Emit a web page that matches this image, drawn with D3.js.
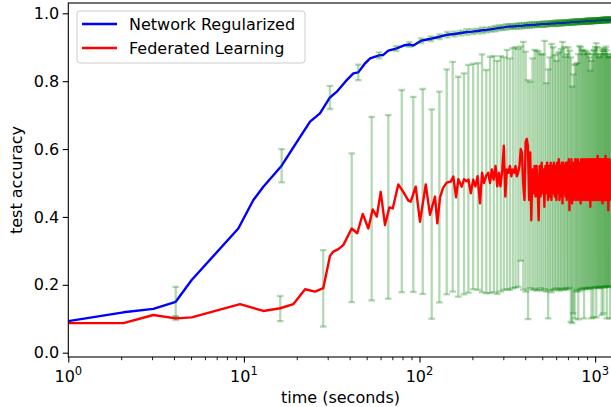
<!DOCTYPE html>
<html lang="en">
<head>
    <meta charset="UTF-8">
    <title>test accuracy vs time</title>
    <script src="https://d3js.org/d3.v7.min.js"></script>
    <style>
        body { margin: 0; background: #fff; }
        svg text { font-family: "DejaVu Sans", sans-serif; fill: #000; }
    </style>
</head>
<body>
    <svg width="611" height="407"></svg>

    <script>
        // ---- data ----
        // Network Regularized: time (s), accuracy, std (null = no error bar)
        var blueTime = [1, 2.06, 3.05, 4.09, 5.04, 9.29, 11.3, 12.9, 16.4, 20.9,
            23.8, 27.1, 30.9, 33.8, 38, 42, 44.8, 48.5, 52.3, 58.9,
            62, 66.4, 73.5, 81, 87.6, 92.2,
            102, 116, 130, 144, 158, 172, 186, 200, 214, 228,
            242, 256, 270, 284, 298, 312, 326, 340, 354, 368,
            382, 396, 410, 424, 438, 452, 466, 480, 494, 508,
            522, 536, 550, 564, 578, 592, 606, 620, 634, 648,
            662, 676, 690, 704, 718, 732, 746, 760, 774, 788,
            802, 816, 830, 844, 858, 872, 886, 900, 914, 928,
            942, 956, 970, 984, 998, 1012, 1026, 1040, 1054, 1068,
            1082, 1096, 1110, 1124, 1138, 1152, 1166, 1180, 1194, 1208,
            1222, 1236];
        var blueAcc = [0.093, 0.119, 0.129, 0.150, 0.214, 0.366, 0.449, 0.489, 0.551, 0.636,
            0.681, 0.705, 0.752, 0.769, 0.800, 0.823, 0.826, 0.850, 0.867, 0.876,
            0.877, 0.890, 0.896, 0.905, 0.908, 0.905,
            0.919, 0.925, 0.931, 0.937, 0.939, 0.942, 0.945, 0.946, 0.948, 0.950,
            0.951, 0.953, 0.955, 0.957, 0.958, 0.960, 0.961, 0.961, 0.962, 0.963,
            0.963, 0.964, 0.965, 0.965, 0.966, 0.966, 0.967, 0.967, 0.968, 0.968,
            0.968, 0.969, 0.969, 0.970, 0.970, 0.970, 0.971, 0.971, 0.971, 0.972,
            0.972, 0.972, 0.973, 0.973, 0.973, 0.974, 0.974, 0.974, 0.975, 0.975,
            0.975, 0.975, 0.976, 0.976, 0.976, 0.976, 0.977, 0.977, 0.977, 0.977,
            0.977, 0.978, 0.978, 0.978, 0.978, 0.978, 0.979, 0.979, 0.979, 0.979,
            0.979, 0.980, 0.980, 0.980, 0.980, 0.980, 0.980, 0.981, 0.981, 0.981,
            0.981, 0.981];
        var blueStd = [null, null, null, 0.044, null, null, null, null, 0.049, null,
            null, null, 0.034, null, null, null, 0.023, null, null, 0.009,
            null, null, 0.007, null, 0.007, null,
            0.007, 0.007, 0.007, 0.008, 0.007, 0.007, 0.008, 0.007, 0.007, 0.008,
            0.007, 0.007, 0.008, 0.007, 0.007, 0.008, 0.007, 0.007, 0.007, 0.008,
            0.007, 0.007, 0.007, 0.008, 0.007, 0.007, 0.007, 0.007, 0.007, 0.008,
            0.007, 0.007, 0.007, 0.007, 0.007, 0.008, 0.007, 0.007, 0.007, 0.007,
            0.007, 0.007, 0.007, 0.007, 0.007, 0.007, 0.007, 0.007, 0.007, 0.007,
            0.007, 0.007, 0.007, 0.007, 0.007, 0.007, 0.007, 0.007, 0.007, 0.007,
            0.007, 0.007, 0.007, 0.007, 0.007, 0.007, 0.007, 0.007, 0.007, 0.007,
            0.007, 0.007, 0.007, 0.007, 0.007, 0.007, 0.007, 0.007, 0.007, 0.007,
            0.007, 0.007];

        // Federated Learning: time (s), accuracy
        var redTime = [1, 2.06, 3.05, 4.09, 5.04, 9.5, 12.9, 16.1, 19.1, 22.3,
            25.4, 28.3, 30.9, 32.3, 34.5, 36.8, 41.1, 44.2, 47.5, 51.1,
            54.1, 57.1, 60.1, 63.6, 67.3, 70.4, 75.7, 80.8, 86.4, 89.1,
            95.1, 100.6, 108.5, 114.7, 122.5, 126.3, 130.8, 136, 142.8, 150.5,
            155.8, 161.4, 166.3, 173.9, 179.2, 185.7, 190,
            196, 202, 208, 214, 221, 227, 233, 239, 246, 252,
            258, 264, 271, 277, 283, 289, 296, 302, 308, 314,
            321, 327, 333, 339, 346, 352, 358, 364, 371, 377,
            383, 389, 396, 402, 408, 414, 421, 427, 433, 439,
            446, 452, 458, 464, 471, 477, 483, 489, 496, 502,
            508, 514, 521, 527, 533, 539, 546, 552, 558, 564,
            571, 577, 583, 589, 596, 602, 608, 614, 621, 627,
            633, 639, 646, 652, 658, 664, 671, 677, 683, 689,
            696, 702, 708, 714, 721, 727, 733, 739, 746, 752,
            758, 764, 771, 777, 783, 789, 796, 802, 808, 814,
            821, 827, 833, 839, 846, 852, 858, 864, 871, 877,
            883, 889, 896, 902, 908, 914, 921, 927, 933, 939,
            946, 952, 958, 964, 971, 977, 983, 989, 996, 1002,
            1008, 1014, 1021, 1027, 1033, 1039, 1046, 1052, 1058, 1064,
            1071, 1077, 1083, 1089, 1096, 1102, 1108, 1114, 1121, 1127,
            1133, 1139, 1146, 1152, 1158, 1164, 1171, 1177, 1183, 1189,
            1196, 1202, 1208, 1214, 1221, 1227, 1233];
        var redAcc = [0.087, 0.087, 0.111, 0.101, 0.104, 0.143, 0.123, 0.131, 0.143, 0.187,
            0.180, 0.190, 0.285, 0.298, 0.305, 0.317, 0.366, 0.352, 0.409, 0.366,
            0.422, 0.401, 0.474, 0.376, 0.428, 0.425, 0.496, 0.474, 0.448, 0.445,
            0.489, 0.386, 0.496, 0.406, 0.460, 0.381, 0.458, 0.485, 0.501, 0.504,
            0.519, 0.458, 0.511, 0.489, 0.511, 0.505, 0.510,
            0.47, 0.51, 0.49, 0.52, 0.44, 0.53, 0.50, 0.52, 0.53, 0.50,
            0.54, 0.51, 0.55, 0.49, 0.53, 0.49, 0.54, 0.61, 0.46, 0.54,
            0.53, 0.55, 0.52, 0.54, 0.53, 0.55, 0.52, 0.53, 0.55, 0.60,
            0.59, 0.50, 0.45, 0.62, 0.63, 0.61, 0.45, 0.59, 0.39, 0.54,
            0.47, 0.55, 0.46, 0.55, 0.48, 0.39, 0.55, 0.46, 0.56, 0.47,
            0.54, 0.43, 0.55, 0.47, 0.56, 0.45, 0.55, 0.46, 0.56, 0.45,
            0.55, 0.47, 0.56, 0.46, 0.55, 0.45, 0.56, 0.47, 0.57, 0.45,
            0.55, 0.46, 0.56, 0.44, 0.56, 0.47, 0.55, 0.46, 0.56, 0.45,
            0.56, 0.46, 0.57, 0.42, 0.55, 0.46, 0.57, 0.44, 0.56, 0.45,
            0.55, 0.47, 0.57, 0.45, 0.56, 0.46, 0.57, 0.45, 0.56, 0.47,
            0.56, 0.44, 0.57, 0.46, 0.56, 0.45, 0.57, 0.46, 0.55, 0.45,
            0.57, 0.47, 0.56, 0.45, 0.57, 0.46, 0.56, 0.45, 0.57, 0.43,
            0.56, 0.46, 0.57, 0.45, 0.56, 0.46, 0.57, 0.45, 0.56, 0.47,
            0.57, 0.45, 0.56, 0.46, 0.58, 0.45, 0.56, 0.46, 0.57, 0.45,
            0.56, 0.47, 0.57, 0.45, 0.56, 0.44, 0.57, 0.46, 0.57, 0.45,
            0.56, 0.46, 0.58, 0.45, 0.57, 0.46, 0.56, 0.45, 0.57, 0.42,
            0.56, 0.46, 0.57, 0.45, 0.56, 0.46, 0.55];

        // Federated Learning error bars: time, lower end, upper end
        var redBarTime = [4.09, 16.1, 28.3, 41.1, 53.4, 66.4, 79.2, 92.2, 104.3, 117.3,
            129.7, 142.8, 154.5, 166.3, 179.2, 189.7,
            202, 215, 227, 240, 252, 265, 277, 290, 302, 315,
            327, 340, 352, 365, 377, 390, 402, 415, 427, 440,
            452, 465, 477, 490, 502, 515, 527, 540, 552, 565,
            577, 590, 602, 615, 627, 640, 652, 665, 677, 690,
            702, 715, 727, 740, 752, 765, 777, 790, 802, 815,
            827, 840, 852, 865, 877, 890, 902, 915, 927, 940,
            952, 965, 977, 990, 1002, 1015, 1027, 1040, 1052, 1065,
            1077, 1090, 1102, 1115, 1127, 1140, 1152, 1165, 1177, 1190,
            1202, 1215, 1227];
        var redBarLow = [0.096, 0.093, 0.077, 0.149, 0.154, 0.159, 0.178, 0.179, 0.173, 0.100,
            0.148, 0.172, 0.180, 0.165, 0.172, 0.177,
            0.187, 0.185, 0.178, 0.175, 0.176, 0.178, 0.173, 0.180, 0.185, 0.187,
            0.185, 0.190, 0.192, 0.194, 0.271, 0.186, 0.180, 0.099, 0.190, 0.185,
            0.188, 0.183, 0.185, 0.190, 0.183, 0.187, 0.180, 0.101, 0.185, 0.178,
            0.184, 0.187, 0.190, 0.186, 0.183, 0.187, 0.189, 0.185, 0.190, 0.186,
            0.188, 0.191, 0.091, 0.087, 0.116, 0.101, 0.180, 0.185, 0.098, 0.181,
            0.188, 0.186, 0.190, 0.101, 0.188, 0.191, 0.187, 0.190, 0.192, 0.189,
            0.101, 0.190, 0.104, 0.192, 0.194, 0.104, 0.192, 0.190, 0.194, 0.191,
            0.193, 0.111, 0.195, 0.116, 0.192, 0.194, 0.196, 0.101, 0.193, 0.195,
            0.194, 0.101, 0.196];
        var redBarHigh = [0.107, 0.167, 0.302, 0.587, 0.695, 0.700, 0.774, 0.754, 0.777, 0.717,
            0.769, 0.835, 0.857, 0.813, 0.823, 0.848,
            0.851, 0.853, 0.879, 0.833, 0.872, 0.874, 0.860, 0.874, 0.870, 0.892,
            0.867, 0.897, 0.900, 0.895, 0.902, 0.916, 0.887, 0.803, 0.798, 0.867,
            0.892, 0.890, 0.887, 0.880, 0.879, 0.919, 0.794, 0.835, 0.870, 0.910,
            0.900, 0.877, 0.860, 0.882, 0.887, 0.895, 0.916, 0.900, 0.872, 0.880,
            0.900, 0.890, 0.870, 0.784, 0.820, 0.848, 0.850, 0.854, 0.880, 0.904,
            0.900, 0.890, 0.892, 0.880, 0.890, 0.887, 0.880, 0.882, 0.870, 0.831,
            0.860, 0.880, 0.890, 0.892, 0.900, 0.912, 0.900, 0.880, 0.870, 0.872,
            0.880, 0.890, 0.897, 0.890, 0.880, 0.895, 0.902, 0.890, 0.880, 0.870,
            0.872, 0.872, 0.880];

        var xMajor = [1, 10, 100, 1000];
        var yTicks = [0.0, 0.2, 0.4, 0.6, 0.8, 1.0];
        var seriesNames = ["Network Regularized", "Federated Learning"];
        var seriesColors = ["#0000ff", "#ff0000"];

        // ---- layout ----
        var svg = d3.select("svg");
        var plotL = 68.3, plotR = 612.7, plotT = 3, plotB = 357;

        var x = d3.scaleLog().domain([1, Math.pow(10, 3.1)]).range([plotL, plotR]);
        var y = d3.scaleLinear().domain([0, 1]).range([352.7, 13.3]);

        svg.append("clipPath").attr("id", "clip")
           .append("rect")
           .attr("x", plotL).attr("y", plotT)
           .attr("width", plotR - plotL).attr("height", plotB - plotT);

        var plot = svg.append("g").attr("clip-path", "url(#clip)");

        var blue = d3.zip(blueTime, blueAcc, blueStd);
        var red = d3.zip(redTime, redAcc);
        var blueBars = blue.filter(function(d) { return d[2] != null; })
                           .map(function(d) { return [d[0], d[1] - d[2], d[1] + d[2]]; });
        var redBars = d3.zip(redBarTime, redBarLow, redBarHigh);

        var line = d3.line()
                     .x(function(d) { return x(d[0]); })
                     .y(function(d) { return y(d[1]); });

        // error bars: semi-transparent green, with caps
        function drawBars(data) {
            var g = plot.append("g")
                        .attr("stroke", "#008000")
                        .attr("stroke-opacity", 0.3)
                        .attr("stroke-width", 2.3);
            g.selectAll("line.v").data(data).join("line")
             .attr("x1", function(d) { return x(d[0]); })
             .attr("x2", function(d) { return x(d[0]); })
             .attr("y1", function(d) { return y(d[1]); })
             .attr("y2", function(d) { return y(d[2]); });
            [1, 2].forEach(function(k) {
                g.selectAll("line.c" + k).data(data).join("line")
                 .attr("class", "c" + k)
                 .attr("x1", function(d) { return x(d[0]) - 3.3; })
                 .attr("x2", function(d) { return x(d[0]) + 3.3; })
                 .attr("y1", function(d) { return y(d[k]); })
                 .attr("y2", function(d) { return y(d[k]); });
            });
        }

        plot.append("path").datum(blue)
            .attr("d", line)
            .attr("fill", "none")
            .attr("stroke", seriesColors[0])
            .attr("stroke-width", 2.4)
            .attr("stroke-linejoin", "round");
        drawBars(blueBars);
        drawBars(redBars);
        plot.append("path").datum(red)
            .attr("d", line)
            .attr("fill", "none")
            .attr("stroke", seriesColors[1])
            .attr("stroke-width", 2.4)
            .attr("stroke-linejoin", "round");

        // ---- axes ----
        var xMinor = x.ticks().filter(function(d) { return xMajor.indexOf(d) < 0; });

        svg.append("g")
           .attr("transform", "translate(0," + plotB + ")")
           .call(d3.axisBottom(x).tickValues(xMajor).tickFormat("").tickSize(5.6).tickSizeOuter(0))
           .call(function(g) { g.select(".domain").remove(); })
           .selectAll("line").attr("stroke-width", 1.1);

        svg.append("g")
           .attr("transform", "translate(0," + plotB + ")")
           .call(d3.axisBottom(x).tickValues(xMinor).tickFormat("").tickSize(3.2).tickSizeOuter(0))
           .call(function(g) { g.select(".domain").remove(); })
           .selectAll("line").attr("stroke-width", 0.9);

        // 10^k labels
        var xl = svg.append("g").selectAll("text").data(xMajor).join("text")
                    .attr("x", function(d) { return x(d); })
                    .attr("y", 382)
                    .attr("text-anchor", "middle")
                    .style("font-size", "16px")
                    .text("10");
        xl.append("tspan")
          .attr("dy", -7)
          .style("font-size", "11.5px")
          .text(function(d) { return Math.round(Math.log10(d)); });

        var yAxis = svg.append("g")
           .attr("transform", "translate(" + plotL + ",0)")
           .call(d3.axisLeft(y).tickValues(yTicks).tickFormat(d3.format(".1f"))
                   .tickSize(5.6).tickPadding(3.5).tickSizeOuter(0))
           .call(function(g) { g.select(".domain").remove(); });
        yAxis.selectAll("line").attr("stroke-width", 1.1);
        yAxis.selectAll("text")
             .attr("font-family", "DejaVu Sans")
             .style("font-size", "16px");

        // frame
        svg.append("rect")
           .attr("x", plotL).attr("y", plotT)
           .attr("width", plotR - plotL).attr("height", plotB - plotT)
           .attr("fill", "none")
           .attr("stroke", "#000")
           .attr("stroke-width", 1.1);

        svg.append("text")
           .attr("x", (plotL + plotR) / 2)
           .attr("y", 403)
           .attr("text-anchor", "middle")
           .style("font-size", "16px")
           .text("time (seconds)");

        svg.append("text")
           .attr("transform", "translate(22,180) rotate(-90)")
           .attr("text-anchor", "middle")
           .style("font-size", "16px")
           .text("test accuracy");

        // ---- legend ----
        var legend = svg.append("g");
        legend.append("rect")
              .attr("x", 77).attr("y", 11)
              .attr("width", 228).attr("height", 52)
              .attr("rx", 3)
              .attr("fill", "#fff").attr("fill-opacity", 0.8)
              .attr("stroke", "#cccccc").attr("stroke-width", 1);
        seriesNames.forEach(function(name, i) {
            var cy = 24 + i * 24;
            legend.append("line")
                  .attr("x1", 82).attr("x2", 117)
                  .attr("y1", cy).attr("y2", cy)
                  .attr("stroke", seriesColors[i])
                  .attr("stroke-width", 2.4);
            legend.append("text")
                  .attr("x", 129).attr("y", cy + 6)
                  .style("font-size", "16px")
                  .text(name);
        });
    </script>
</body>
</html>
